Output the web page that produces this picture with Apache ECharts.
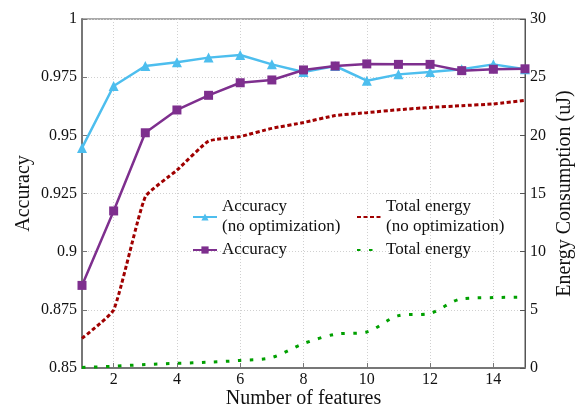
<!DOCTYPE html>
<html>
<head>
<meta charset="utf-8">
<script src="https://cdn.jsdelivr.net/npm/echarts@6/dist/echarts.min.js"></script>
<style>html,body{margin:0;padding:0;background:#fff;overflow:hidden}#c{width:584px;height:405px}</style>
</head>
<body>
<div id="c"></div>
<script>
var features = ['1','2','3','4','5','6','7','8','9','10','11','12','13','14','15'];
var accNoOpt = [0.9446,0.9712,0.9798,0.9814,0.9834,0.9845,0.9805,0.9772,0.9798,0.9735,0.9762,0.9772,0.9784,0.9805,0.9784];
var accOpt = [0.8855,0.9175,0.9511,0.9609,0.9672,0.9726,0.9738,0.9781,0.9798,0.9807,0.9805,0.9805,0.9778,0.9784,0.9786];
var energyNoOpt = [2.55,5.0,14.7,17.0,19.5,19.9,20.6,21.1,21.7,21.95,22.2,22.4,22.55,22.7,23.0];
var energyOpt = [0.05,0.15,0.3,0.4,0.5,0.65,0.9,2.1,2.9,3.1,4.5,4.7,5.95,6.05,6.1];
var names = ['Accuracy\n(no optimization)','Accuracy','Total energy\n(no optimization)','Total energy'];

var FONT = 'Liberation Serif';
var even = function(i, v){ return (+v) % 2 === 0; };
var chart = echarts.init(document.getElementById('c'), null, {renderer:'canvas', width:584, height:405});
chart.setOption({
  animation:false,
  backgroundColor:'#fff',
  textStyle:{fontFamily:FONT},
  grid:{left:82,right:59,top:19,bottom:37,show:true,borderColor:'#555',borderWidth:1,containLabel:false,outerBoundsMode:'none'},
  legend:[{
    orient:'vertical',left:187,top:192,itemWidth:24,itemHeight:9,itemGap:3,
    data:[names[0],names[1]],
    textStyle:{fontFamily:FONT,fontSize:17,color:'#111',lineHeight:20}
  },{
    orient:'vertical',left:351,top:192,itemWidth:24,itemHeight:9,itemGap:3,
    itemStyle:{opacity:0},
    data:[names[2],names[3]],
    textStyle:{fontFamily:FONT,fontSize:17,color:'#111',lineHeight:20}
  }],
  xAxis:{
    type:'category',data:features,boundaryGap:false,
    name:'Number of features',nameLocation:'middle',nameGap:21,nameMoveOverlap:false,
    nameTextStyle:{fontFamily:FONT,fontSize:20,color:'#111'},
    axisLine:{lineStyle:{color:'#777',width:2}},
    axisTick:{inside:true,length:5,interval:even,lineStyle:{color:'#777'}},
    axisLabel:{interval:even,margin:4,fontFamily:FONT,fontSize:16,color:'#111'},
    splitLine:{show:true,interval:even,lineStyle:{color:'#d0d0d0',type:[1,2],width:1}}
  },
  yAxis:[{
    type:'value',min:0.85,max:1,interval:0.025,position:'left',
    name:'Accuracy',nameLocation:'middle',nameGap:48,nameRotate:90,nameMoveOverlap:false,
    nameTextStyle:{fontFamily:FONT,fontSize:20,color:'#111'},
    axisLine:{show:true,lineStyle:{color:'#777',width:2}},
    axisTick:{show:true,inside:true,length:5,lineStyle:{color:'#777'}},
    axisLabel:{margin:5,fontFamily:FONT,fontSize:16,color:'#111',formatter:function(v){return String(parseFloat(v.toFixed(3)));}},
    splitLine:{show:true,lineStyle:{color:'#d0d0d0',type:[1,2],width:1}}
  },{
    type:'value',min:0,max:30,interval:5,position:'right',
    name:'Energy Consumption (uJ)',nameLocation:'middle',nameGap:30,nameRotate:90,nameMoveOverlap:false,
    nameTextStyle:{fontFamily:FONT,fontSize:20,color:'#111'},
    axisLine:{show:true,lineStyle:{color:'#555',width:1}},
    axisTick:{show:true,inside:true,length:5,lineStyle:{color:'#555'}},
    axisLabel:{margin:5,fontFamily:FONT,fontSize:16,color:'#111'},
    splitLine:{show:false}
  }],
  series:[{
    name:names[2],type:'line',yAxisIndex:1,data:energyNoOpt,symbol:'none',smooth:0.15,
    lineStyle:{color:'#a00000',width:3,type:[4,2.5]},itemStyle:{color:'#a00000'},z:2
  },{
    name:names[3],type:'line',yAxisIndex:1,data:energyOpt,symbol:'none',smooth:0.3,
    lineStyle:{color:'#00a000',width:3,type:[3.5,8.5]},itemStyle:{color:'#00a000'},z:2
  },{
    name:names[0],type:'line',yAxisIndex:0,data:accNoOpt,symbol:'triangle',symbolSize:10,
    lineStyle:{color:'#4dbeee',width:2.5},itemStyle:{color:'#4dbeee'},z:3
  },{
    name:names[1],type:'line',yAxisIndex:0,data:accOpt,symbol:'rect',symbolSize:9,
    lineStyle:{color:'#7e2f8e',width:2.5},itemStyle:{color:'#7e2f8e'},z:4
  }]
});
</script>
</body>
</html>
